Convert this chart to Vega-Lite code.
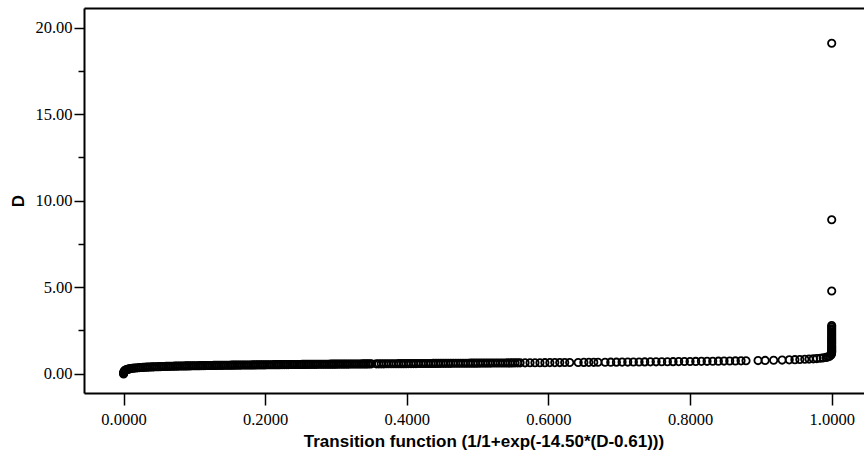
{
  "$schema": "https://vega.github.io/schema/vega-lite/v6.json",
  "width": 780,
  "height": 385,
  "autosize": "none",
  "padding": {"left": 84, "top": 8, "right": 0, "bottom": 66},
  "background": "white",
  "config": {"view": {"stroke": null}, "axis": {"grid": false}},
  "data": {"values": [
    {"F":0.0001,"D":-0.02},{"F":0.0002,"D":0.023},{"F":0.0004,"D":0.07},{"F":0.0007,"D":0.109},{"F":0.001,"D":0.134},{"F":0.0015,"D":0.162},{"F":0.002,"D":0.181},{"F":0.003,"D":0.209},{"F":0.004,"D":0.229},{"F":0.005,"D":0.245},{"F":0.006,"D":0.258},{"F":0.007,"D":0.268},{"F":0.0085,"D":0.282},
    {"F":0.010,"D":0.293},{"F":0.015,"D":0.321},{"F":0.020,"D":0.342},{"F":0.025,"D":0.357},{"F":0.030,"D":0.370},{"F":0.035,"D":0.381},{"F":0.040,"D":0.391},{"F":0.045,"D":0.399},{"F":0.050,"D":0.407},{"F":0.055,"D":0.414},{"F":0.060,"D":0.420},{"F":0.065,"D":0.426},{"F":0.070,"D":0.432},{"F":0.075,"D":0.437},{"F":0.080,"D":0.442},{"F":0.085,"D":0.446},{"F":0.090,"D":0.450},{"F":0.095,"D":0.455},{"F":0.100,"D":0.458},{"F":0.105,"D":0.462},{"F":0.110,"D":0.466},{"F":0.115,"D":0.469},{"F":0.120,"D":0.473},{"F":0.125,"D":0.476},{"F":0.130,"D":0.479},{"F":0.135,"D":0.482},{"F":0.140,"D":0.485},{"F":0.145,"D":0.488},{"F":0.150,"D":0.490},{"F":0.155,"D":0.493},{"F":0.160,"D":0.496},{"F":0.165,"D":0.498},{"F":0.170,"D":0.501},{"F":0.175,"D":0.503},{"F":0.180,"D":0.505},{"F":0.185,"D":0.508},{"F":0.190,"D":0.510},{"F":0.195,"D":0.512},{"F":0.200,"D":0.514},{"F":0.205,"D":0.517},{"F":0.210,"D":0.519},{"F":0.215,"D":0.521},{"F":0.220,"D":0.523},{"F":0.225,"D":0.525},{"F":0.230,"D":0.527},{"F":0.235,"D":0.529},{"F":0.240,"D":0.531},{"F":0.245,"D":0.532},{"F":0.250,"D":0.534},{"F":0.255,"D":0.536},{"F":0.260,"D":0.538},{"F":0.265,"D":0.540},{"F":0.270,"D":0.541},{"F":0.275,"D":0.543},{"F":0.280,"D":0.545},{"F":0.285,"D":0.547},{"F":0.290,"D":0.548},{"F":0.295,"D":0.550},{"F":0.300,"D":0.552},{"F":0.305,"D":0.553},{"F":0.310,"D":0.555},{"F":0.315,"D":0.556},{"F":0.320,"D":0.558},{"F":0.325,"D":0.560},{"F":0.330,"D":0.561},{"F":0.335,"D":0.563},{"F":0.340,"D":0.564},{"F":0.345,"D":0.566},{"F":0.350,"D":0.567},
    {"F":0.0125,"D":0.307},{"F":0.0175,"D":0.332},{"F":0.0225,"D":0.350},{"F":0.0275,"D":0.364},{"F":0.0325,"D":0.376},{"F":0.0375,"D":0.386},{"F":0.0425,"D":0.395},{"F":0.0475,"D":0.403},{"F":0.0525,"D":0.411},{"F":0.0575,"D":0.417},{"F":0.0625,"D":0.423},{"F":0.0675,"D":0.429},{"F":0.0725,"D":0.435},{"F":0.0775,"D":0.440},{"F":0.0825,"D":0.444},{"F":0.0875,"D":0.448},{"F":0.0925,"D":0.453},{"F":0.0975,"D":0.457},{"F":0.1025,"D":0.460},{"F":0.1075,"D":0.464},{"F":0.1125,"D":0.468},{"F":0.1175,"D":0.471},{"F":0.1225,"D":0.475},{"F":0.1275,"D":0.478},{"F":0.1325,"D":0.481},{"F":0.1375,"D":0.484},{"F":0.1425,"D":0.487},{"F":0.1475,"D":0.489},{"F":0.1525,"D":0.492},{"F":0.1575,"D":0.495},{"F":0.1625,"D":0.497},{"F":0.1675,"D":0.500},{"F":0.1725,"D":0.502},{"F":0.1775,"D":0.504},{"F":0.1825,"D":0.507},{"F":0.1875,"D":0.509},{"F":0.1925,"D":0.511},{"F":0.1975,"D":0.513},{"F":0.2025,"D":0.516},{"F":0.2075,"D":0.518},{"F":0.2125,"D":0.520},{"F":0.2175,"D":0.522},{"F":0.2225,"D":0.524},{"F":0.2275,"D":0.526},{"F":0.2325,"D":0.528},{"F":0.2375,"D":0.530},{"F":0.2425,"D":0.532},{"F":0.2475,"D":0.533},{"F":0.2525,"D":0.535},{"F":0.2575,"D":0.537},{"F":0.2625,"D":0.539},{"F":0.2675,"D":0.541},{"F":0.2725,"D":0.542},{"F":0.2775,"D":0.544},{"F":0.2825,"D":0.546},{"F":0.2875,"D":0.548},{"F":0.2925,"D":0.549},{"F":0.2975,"D":0.551},{"F":0.3025,"D":0.553},{"F":0.3075,"D":0.554},{"F":0.3125,"D":0.556},{"F":0.3175,"D":0.557},{"F":0.3225,"D":0.559},{"F":0.3275,"D":0.561},{"F":0.3325,"D":0.562},{"F":0.3375,"D":0.564},{"F":0.3425,"D":0.565},{"F":0.3475,"D":0.567},
    {"F":0.357,"D":0.568},{"F":0.364,"D":0.570},{"F":0.371,"D":0.572},{"F":0.378,"D":0.575},{"F":0.385,"D":0.577},{"F":0.392,"D":0.579},{"F":0.399,"D":0.581},{"F":0.406,"D":0.584},{"F":0.413,"D":0.586},{"F":0.420,"D":0.588},{"F":0.427,"D":0.590},{"F":0.434,"D":0.592},{"F":0.441,"D":0.594},{"F":0.448,"D":0.596},{"F":0.455,"D":0.598},{"F":0.462,"D":0.600},{"F":0.469,"D":0.601},{"F":0.476,"D":0.603},{"F":0.483,"D":0.605},{"F":0.490,"D":0.607},{"F":0.497,"D":0.609},{"F":0.504,"D":0.611},{"F":0.511,"D":0.613},{"F":0.518,"D":0.615},{"F":0.525,"D":0.617},{"F":0.532,"D":0.619},{"F":0.539,"D":0.621},{"F":0.546,"D":0.623},{"F":0.553,"D":0.625},{"F":0.560,"D":0.627},
    {"F":0.3605,"D":0.569},{"F":0.3675,"D":0.571},{"F":0.3745,"D":0.574},{"F":0.3815,"D":0.576},{"F":0.3885,"D":0.578},{"F":0.3955,"D":0.580},{"F":0.4025,"D":0.583},{"F":0.4095,"D":0.585},{"F":0.4165,"D":0.587},{"F":0.4235,"D":0.589},{"F":0.4305,"D":0.591},{"F":0.4375,"D":0.593},{"F":0.4445,"D":0.595},{"F":0.4515,"D":0.597},{"F":0.4585,"D":0.599},{"F":0.4655,"D":0.601},{"F":0.4725,"D":0.602},{"F":0.4795,"D":0.604},{"F":0.4865,"D":0.606},{"F":0.4935,"D":0.608},{"F":0.5005,"D":0.610},{"F":0.5075,"D":0.612},{"F":0.5145,"D":0.614},{"F":0.5215,"D":0.616},{"F":0.5285,"D":0.618},{"F":0.5355,"D":0.620},{"F":0.5425,"D":0.622},{"F":0.5495,"D":0.624},{"F":0.5565,"D":0.626},
    {"F":0.567,"D":0.629},{"F":0.574,"D":0.631},{"F":0.581,"D":0.633},{"F":0.588,"D":0.635},{"F":0.595,"D":0.637},{"F":0.602,"D":0.639},{"F":0.609,"D":0.641},{"F":0.616,"D":0.643},{"F":0.623,"D":0.645},{"F":0.630,"D":0.647},{"F":0.642,"D":0.650},{"F":0.650,"D":0.653},{"F":0.657,"D":0.655},{"F":0.664,"D":0.657},{"F":0.670,"D":0.659},{"F":0.680,"D":0.662},{"F":0.688,"D":0.665},{"F":0.696,"D":0.667},{"F":0.704,"D":0.670},{"F":0.712,"D":0.672},{"F":0.720,"D":0.675},{"F":0.728,"D":0.678},{"F":0.736,"D":0.681},{"F":0.744,"D":0.684},{"F":0.752,"D":0.686},{"F":0.760,"D":0.689},{"F":0.768,"D":0.693},{"F":0.776,"D":0.696},{"F":0.784,"D":0.699},{"F":0.792,"D":0.702},{"F":0.800,"D":0.706},{"F":0.808,"D":0.709},{"F":0.816,"D":0.713},{"F":0.824,"D":0.716},{"F":0.832,"D":0.720},{"F":0.840,"D":0.724},{"F":0.848,"D":0.729},{"F":0.856,"D":0.733},{"F":0.864,"D":0.738},{"F":0.872,"D":0.742},{"F":0.879,"D":0.747},
    {"F":0.896,"D":0.759},{"F":0.906,"D":0.766},{"F":0.918,"D":0.777},{"F":0.930,"D":0.788},{"F":0.940,"D":0.800},{"F":0.948,"D":0.810},{"F":0.955,"D":0.821},{"F":0.962,"D":0.833},{"F":0.968,"D":0.845},{"F":0.974,"D":0.860},{"F":0.979,"D":0.875},{"F":0.984,"D":0.894},{"F":0.988,"D":0.914},{"F":0.992,"D":0.942},{"F":0.995,"D":0.975},{"F":0.997,"D":1.010},{"F":0.999,"D":1.086},{"F":0.9995,"D":1.134},{"F":0.9998,"D":1.197},
    {"F":1.0,"D":1.25},{"F":1.0,"D":1.32},{"F":1.0,"D":1.40},{"F":1.0,"D":1.48},{"F":1.0,"D":1.56},{"F":1.0,"D":1.65},{"F":1.0,"D":1.74},{"F":1.0,"D":1.83},{"F":1.0,"D":1.92},{"F":1.0,"D":2.00},{"F":1.0,"D":2.10},{"F":1.0,"D":2.20},{"F":1.0,"D":2.30},{"F":1.0,"D":2.40},{"F":1.0,"D":2.50},{"F":1.0,"D":2.60},{"F":1.0,"D":2.70},{"F":1.0,"D":2.78},
    {"F":1.0,"D":4.78},{"F":1.0,"D":8.9},{"F":1.0,"D":19.1}
  ]},
  "resolve": {"axis": {"x": "independent"}},
  "layer": [
    {
      "mark": {"type": "point", "shape": "circle", "filled": false, "stroke": "black", "strokeWidth": 1.8, "size": 54, "opacity": 1},
      "encoding": {
        "x": {
          "field": "F", "type": "quantitative",
          "scale": {"domain": [-0.0558, 1.0456], "nice": false, "zero": false},
          "axis": {
            "orient": "bottom",
            "values": [0, 0.2, 0.4, 0.6, 0.8, 1.0],
            "format": ".4f",
            "domainColor": "black", "domainWidth": 2,
            "tickColor": "black", "tickWidth": 1.5, "tickSize": 12,
            "labelFont": "Liberation Serif", "labelFontSize": 16.5, "labelColor": "black", "labelPadding": 6,
            "title": "Transition function (1/1+exp(-14.50*(D-0.61)))",
            "titleFont": "Liberation Sans", "titleFontSize": 17, "titleFontWeight": "bold", "titleColor": "black",
            "titlePadding": 6, "titleX": 399.5
          }
        },
        "y": {
          "field": "D", "type": "quantitative",
          "scale": {"domain": [-1.116, 21.139], "nice": false, "zero": false},
          "axis": {
            "orient": "left",
            "values": [0, 2.5, 5, 7.5, 10, 12.5, 15, 17.5, 20],
            "labelExpr": "datum.value % 5 === 0 ? format(datum.value, '.2f') : ''",
            "domainColor": "black", "domainWidth": 2,
            "tickColor": "black", "tickWidth": 1.5,
            "tickSize": {"condition": {"test": "datum.value % 5 === 0", "value": 10}, "value": 6},
            "labelFont": "Liberation Serif", "labelFontSize": 16.5, "labelColor": "black", "labelPadding": 2,
            "title": "D",
            "titleFont": "Liberation Sans", "titleFontSize": 17, "titleFontWeight": "bold", "titleColor": "black",
            "titlePadding": 7
          }
        }
      }
    },
    {
      "mark": {"type": "point", "opacity": 0},
      "encoding": {
        "x": {
          "field": "F", "type": "quantitative",
          "axis": {"orient": "top", "labels": false, "ticks": false, "title": null, "domainColor": "black", "domainWidth": 2}
        }
      }
    }
  ]
}
